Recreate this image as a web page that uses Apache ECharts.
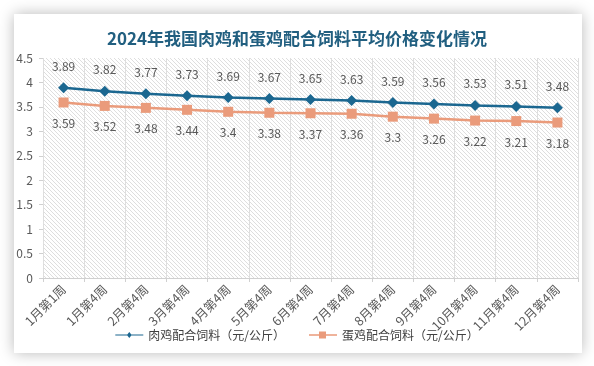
<!DOCTYPE html>
<html><head><meta charset="utf-8">
<script src="https://cdn.jsdelivr.net/npm/echarts@6/dist/echarts.min.js"></script>
<style>html,body{margin:0;padding:0;background:#fff;}#c{width:594px;height:366px;}</style>
</head><body><div id="c"></div>
<script>
var categories = ['1月第1周','1月第4周','2月第4周','3月第4周','4月第4周','5月第4周','6月第4周','7月第4周','8月第4周','9月第4周','10月第4周','11月第4周','12月第4周'];
var broiler = [3.89,3.82,3.77,3.73,3.69,3.67,3.65,3.63,3.59,3.56,3.53,3.51,3.48];
var layer = [3.59,3.52,3.48,3.44,3.4,3.38,3.37,3.36,3.3,3.26,3.22,3.21,3.18];

var pc = document.createElement('canvas');
pc.width = 4; pc.height = 4;
var g = pc.getContext('2d');
g.fillStyle = '#ffffff'; g.fillRect(0,0,4,4);
g.strokeStyle = '#d6d6d6'; g.lineWidth = 0.8;
g.beginPath(); g.moveTo(-1,-1); g.lineTo(5,5); g.moveTo(-1,3); g.lineTo(1,5); g.moveTo(3,-1); g.lineTo(5,1); g.stroke();

var chart = echarts.init(document.getElementById('c'));
var font = "'Noto Sans CJK SC', 'Noto Sans', sans-serif";
chart.setOption({
  animation: false,
  textStyle: {fontFamily: font},
  graphic: [{type:'rect', z:-10, shape:{x:14,y:14,width:568,height:339}, style:{fill:'#fff', shadowBlur:14, shadowColor:'rgba(0,0,0,0.28)'}, silent:true}],
  title: {text:'2024年我国肉鸡和蛋鸡配合饲料平均价格变化情况', left:'center', top:25,
    textStyle:{fontFamily:"'Noto Sans CJK SC', serif", fontSize:17, fontWeight:'bold', color:'#215f80'}},
  grid: {left:43, right:16, top:58, bottom:88, show:true, borderWidth:0, backgroundColor:{image:pc, repeat:'repeat'}},
  legend: {bottom:20, left:'center', itemWidth:28, itemHeight:10, itemGap:24,
    textStyle:{fontSize:12, color:'#404040', fontFamily:font},
    data:[{name:'肉鸡配合饲料（元/公斤）', icon:'path://M0,4.5H12L14,2L16,4.5H28V5.5H16L14,8L12,5.5H0Z'},
          {name:'蛋鸡配合饲料（元/公斤）', icon:'path://M0,4.3H10V1.5H17V4.3H28V5.7H17V8.5H10V5.7H0Z'}]},
  xAxis: {type:'category', data:categories, boundaryGap:true,
    axisLine:{lineStyle:{color:'#d0d0d0'}},
    axisTick:{show:true, length:4, lineStyle:{color:'#d0d0d0'}},
    axisLabel:{rotate:45, interval:0, fontSize:12.5, color:'#595959', margin:9},
    splitLine:{show:true, lineStyle:{color:'#dedede'}}},
  yAxis: {type:'value', min:0, max:4.5, interval:0.5,
    axisLine:{show:false},
    axisTick:{show:true, length:4, lineStyle:{color:'#d0d0d0'}},
    axisLabel:{fontSize:12, color:'#595959', margin:10},
    splitLine:{show:false}},
  series: [
    {name:'肉鸡配合饲料（元/公斤）', type:'line', data:broiler, color:'#1b6790',
      symbol:'diamond', symbolSize:11, lineStyle:{width:2.5},
      label:{show:true, position:'top', distance:10, fontSize:12, color:'#595959'}},
    {name:'蛋鸡配合饲料（元/公斤）', type:'line', data:layer, color:'#ea9b7b',
      symbol:'rect', symbolSize:10, lineStyle:{width:2.5},
      label:{show:true, position:'bottom', distance:10, fontSize:12, color:'#595959'}}
  ]
});
</script></body></html>
